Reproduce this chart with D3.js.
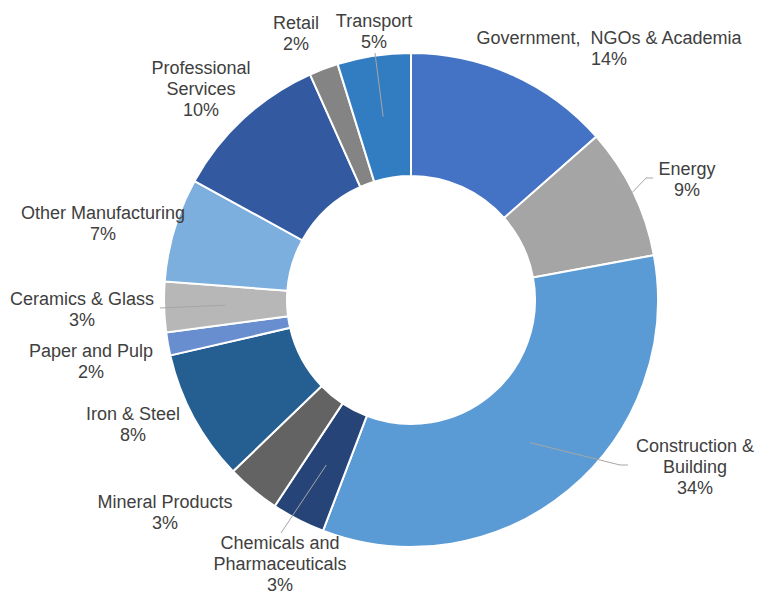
<!DOCTYPE html>
<html>
<head>
<meta charset="utf-8">
<script src="https://cdn.jsdelivr.net/npm/d3@7"></script>
<style>
  body { margin: 0; background: #fff; }
  text { font-family: "Liberation Sans", Arial, sans-serif; fill: #404040; white-space: pre; }
</style>
</head>
<body>
<div id="chart"></div>
<script>
// sectors, clockwise from 12 o'clock
const sectors = ['Government, NGOs & Academia', 'Energy', 'Construction & Building',
  'Chemicals and Pharmaceuticals', 'Mineral Products', 'Iron & Steel', 'Paper and Pulp',
  'Ceramics & Glass', 'Other Manufacturing', 'Professional Services', 'Retail', 'Transport'];
// share of slice
const shares = [13.5, 8.6, 33.7, 3.5, 3.5, 8.6, 1.5, 3.3, 6.8, 10.3, 1.9, 4.8];
// rounded labels shown
const pctLabels = ['14%', '9%', '34%', '3%', '3%', '8%', '2%', '3%', '7%', '10%', '2%', '5%'];
const colors = ['#4472C4', '#A5A5A5', '#5B9BD5', '#264478', '#636363', '#255E91',
  '#698ED0', '#B7B7B7', '#7CAFDD', '#335AA1', '#848484', '#327DC2'];

// label layout: text lines, centre x, first baseline y, optional leader
const labelLayout = [
  { lines: ['Government,  NGOs & Academia'], x: 609, y: 44 },
  { lines: ['Energy'], x: 687, y: 175, leader: { from: [653, 178], bend: [646, 178], r: 'outer' } },
  { lines: ['Construction &', 'Building'], x: 695, y: 452, leader: { from: [628, 465], bend: [620, 465], r: 'mid' } },
  { lines: ['Chemicals and', 'Pharmaceuticals'], x: 280, y: 549, leader: { from: [281, 533], r: 'mid' } },
  { lines: ['Mineral Products'], x: 165, y: 508 },
  { lines: ['Iron & Steel'], x: 133, y: 420 },
  { lines: ['Paper and Pulp'], x: 91, y: 357 },
  { lines: ['Ceramics & Glass'], x: 82, y: 305, leader: { from: [160, 308], r: 'mid' } },
  { lines: ['Other Manufacturing'], x: 103, y: 219 },
  { lines: ['Professional', 'Services'], x: 201, y: 74 },
  { lines: ['Retail'], x: 296, y: 29 },
  { lines: ['Transport'], x: 374, y: 27, leader: { from: [375, 53], r: 'mid' } }
];

const width = 757, height = 594;
const cx = 411, cy = 300, outerR = 247, innerR = 124, lineH = 21;

const data = sectors.map((s, i) => ({ name: s, value: shares[i], pct: pctLabels[i], color: colors[i], layout: labelLayout[i] }));

const svg = d3.select('#chart').append('svg')
  .attr('width', width)
  .attr('height', height);

const pie = d3.pie().sort(null).value(d => d.value);
const arc = d3.arc().innerRadius(innerR).outerRadius(outerR);
const arcs = pie(data);

const g = svg.append('g').attr('transform', `translate(${cx},${cy})`);

g.selectAll('path')
  .data(arcs)
  .enter().append('path')
  .attr('d', arc)
  .attr('fill', d => d.data.color)
  .attr('stroke', '#fff')
  .attr('stroke-width', 2);

// leader lines
arcs.forEach(d => {
  const L = d.data.layout.leader;
  if (!L) return;
  const mid = (d.startAngle + d.endAngle) / 2;
  const r = L.r === 'outer' ? outerR - 1 : (innerR + outerR) / 2;
  const end = [cx + r * Math.sin(mid), cy - r * Math.cos(mid)];
  const pts = [L.from];
  if (L.bend) pts.push(L.bend);
  pts.push(end);
  svg.append('path')
    .attr('d', d3.line()(pts))
    .attr('fill', 'none')
    .attr('stroke', '#A6A6A6')
    .attr('stroke-width', 1);
});

// labels
arcs.forEach(d => {
  const lay = d.data.layout;
  const t = svg.append('text')
    .attr('text-anchor', 'middle')
    .attr('font-size', 18);
  lay.lines.concat([d.data.pct]).forEach((line, k) => {
    t.append('tspan')
      .attr('x', lay.x)
      .attr('y', lay.y + k * lineH)
      .text(line);
  });
});
</script>
</body>
</html>
